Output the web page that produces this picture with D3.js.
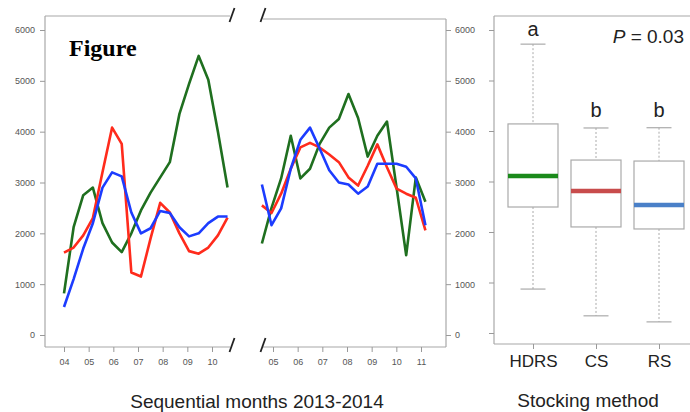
<!DOCTYPE html>
<html>
<head>
<meta charset="utf-8">
<script src="https://cdn.jsdelivr.net/npm/d3@7"></script>
<style>
  body { margin: 0; background: #fff; }
  svg { display: block; font-family: Arial, "Liberation Sans", sans-serif; }
  .tick text { fill: #555; font-size: 9px; }
  .tick line { stroke: #999; }
</style>
</head>
<body>
<div id="chart"></div>
<script>
// --- data ---
const yTicks = [0, 1000, 2000, 3000, 4000, 5000, 6000]

const leftMonthTicks = [4, 5, 6, 7, 8, 9, 10]
const rightMonthTicks = [5, 6, 7, 8, 9, 10, 11]

const leftMonths = [4.00, 4.39, 4.78, 5.17, 5.56, 5.95, 6.34, 6.73, 7.12, 7.51, 7.90, 8.29, 8.68, 9.07, 9.46, 9.85, 10.24, 10.63]
const leftGreen = [820, 2120, 2750, 2900, 2200, 1820, 1630, 2000, 2450, 2800, 3100, 3400, 4350, 4940, 5490, 5020, 4000, 2900]
const leftRed = [1620, 1720, 1960, 2300, 3200, 4080, 3760, 1230, 1150, 1900, 2600, 2410, 2000, 1650, 1600, 1720, 1960, 2310]
const leftBlue = [550, 1100, 1700, 2200, 2900, 3200, 3120, 2410, 2000, 2100, 2440, 2400, 2120, 1940, 2000, 2200, 2330, 2330]

const rightMonths = [4.55, 4.94, 5.33, 5.72, 6.11, 6.50, 6.89, 7.28, 7.67, 8.06, 8.45, 8.84, 9.23, 9.62, 10.01, 10.40, 10.79, 11.18]
const rightGreen = [1800, 2500, 3080, 3920, 3080, 3270, 3760, 4080, 4250, 4740, 4270, 3510, 3920, 4200, 2900, 1570, 3100, 2620]
const rightRed = [2550, 2400, 2780, 3270, 3690, 3780, 3690, 3550, 3400, 3100, 2940, 3330, 3750, 3300, 2880, 2780, 2700, 2060]
const rightBlue = [2960, 2160, 2490, 3270, 3840, 4080, 3670, 3240, 3000, 2960, 2780, 2920, 3370, 3370, 3370, 3310, 3080, 2160]

const groups = ['HDRS', 'CS', 'RS']
const groupLetters = ['a', 'b', 'b']
const whiskerLow = [870, 340, 220]
const q1 = [2495, 2100, 2060]
const medians = [3110, 2810, 2535]
const q3 = [4140, 3425, 3405]
const whiskerHigh = [5720, 4060, 4065]

const lineColors = { green: '#1f6f1f', red: '#ff2b1c', blue: '#1c3cff' }
const medianColors = ['#1b8a1b', '#c84c4c', '#4a80c8']

// --- layout ---
const W = 690, H = 412
const svg = d3.select('#chart').append('svg')
  .attr('width', W).attr('height', H)

const frameColor = '#a8a8a8'
const fmt = d3.format('d')

const y = d3.scaleLinear().domain([0, 6000]).range([335, 30])
const yBox = d3.scaleLinear().domain([0, 6000]).range([333, 30])

const xLeft = d3.scaleLinear().domain([4, 10]).range([64, 212])
const xRight = d3.scaleLinear().domain([5, 11]).range([273, 421])

function frameLine(x1, y1, x2, y2) {
  svg.append('line')
    .attr('x1', x1).attr('y1', y1).attr('x2', x2).attr('y2', y2)
    .attr('stroke', frameColor).attr('stroke-width', 1.2)
}

function breakMark(cx, cy) {
  svg.append('line')
    .attr('x1', cx - 2.5).attr('y1', cy + 7).attr('x2', cx + 2.5).attr('y2', cy - 7)
    .attr('stroke', '#222').attr('stroke-width', 1.8)
}

function styleAxis(g) {
  g.select('.domain').remove()
  g.selectAll('.tick line').attr('stroke', '#999')
}

// left panel frame (top, left, bottom)
frameLine(45, 16, 230, 16)
frameLine(45, 16, 45, 347)
frameLine(45, 347, 230, 347)
breakMark(232, 15)
breakMark(232, 345)

// right panel frame (top, right, bottom)
frameLine(263, 19, 446, 19)
frameLine(446, 19, 446, 347)
frameLine(263, 347, 446, 347)
breakMark(263, 15)
breakMark(263, 345)

// axes
svg.append('g').attr('transform', 'translate(45,0)')
  .call(d3.axisLeft(y).tickValues(yTicks).tickSize(5).tickPadding(5).tickFormat(fmt))
  .call(styleAxis)

svg.append('g').attr('transform', 'translate(446,0)')
  .call(d3.axisRight(y).tickValues(yTicks).tickSize(5).tickPadding(4).tickFormat(fmt))
  .call(styleAxis)

svg.append('g').attr('transform', 'translate(0,347)')
  .call(d3.axisBottom(xLeft).tickValues(leftMonthTicks).tickSize(5).tickPadding(7)
    .tickFormat(d => String(d).padStart(2, '0')))
  .call(styleAxis)

svg.append('g').attr('transform', 'translate(0,347)')
  .call(d3.axisBottom(xRight).tickValues(rightMonthTicks).tickSize(5).tickPadding(7)
    .tickFormat(d => String(d).padStart(2, '0')))
  .call(styleAxis)

// lines
function drawSeries(xs, months, values, color) {
  const pts = months.map((m, i) => [m, values[i]])
  svg.append('path')
    .datum(pts)
    .attr('fill', 'none')
    .attr('stroke', color)
    .attr('stroke-width', 2.6)
    .attr('stroke-linejoin', 'round')
    .attr('d', d3.line().x(d => xs(d[0])).y(d => y(d[1])))
}

drawSeries(xLeft, leftMonths, leftGreen, lineColors.green)
drawSeries(xLeft, leftMonths, leftRed, lineColors.red)
drawSeries(xLeft, leftMonths, leftBlue, lineColors.blue)

drawSeries(xRight, rightMonths, rightGreen, lineColors.green)
drawSeries(xRight, rightMonths, rightRed, lineColors.red)
drawSeries(xRight, rightMonths, rightBlue, lineColors.blue)

svg.append('text')
  .attr('x', 69).attr('y', 56)
  .attr('font-family', '"Liberation Serif", "Times New Roman", serif')
  .attr('font-weight', 'bold')
  .attr('font-size', 24)
  .attr('fill', '#000')
  .text('Figure')

svg.append('text')
  .attr('x', 257).attr('y', 408)
  .attr('text-anchor', 'middle')
  .attr('font-size', 19)
  .attr('fill', '#222')
  .text('Sequential months 2013-2014')

// --- boxplot panel ---
const xBox = d3.scalePoint().domain(groups).range([533, 659])
const boxW = 50, capW = 25

frameLine(494, 16, 690, 16)
frameLine(494, 16, 494, 344)
frameLine(494, 344, 690, 344)

svg.append('g').attr('transform', 'translate(494,0)')
  .call(d3.axisLeft(yBox).tickValues(yTicks).tickSize(5).tickFormat(''))
  .call(styleAxis)

svg.append('g').attr('transform', 'translate(0,344)')
  .call(d3.axisBottom(xBox).tickSize(5).tickPadding(6))
  .call(styleAxis)
  .call(g => g.selectAll('.tick text')
    .style('font-size', '17px').style('fill', '#222'))

const boxes = groups.map((g, i) => ({
  g, lo: whiskerLow[i], q1: q1[i], med: medians[i], q3: q3[i], hi: whiskerHigh[i],
  color: medianColors[i], letter: groupLetters[i]
}))

const bg = svg.append('g').selectAll('g').data(boxes).join('g')

bg.append('line')
  .attr('x1', d => xBox(d.g)).attr('x2', d => xBox(d.g))
  .attr('y1', d => yBox(d.hi)).attr('y2', d => yBox(d.q3))
  .attr('stroke', '#aaa').attr('stroke-dasharray', '2,2')
bg.append('line')
  .attr('x1', d => xBox(d.g)).attr('x2', d => xBox(d.g))
  .attr('y1', d => yBox(d.q1)).attr('y2', d => yBox(d.lo))
  .attr('stroke', '#aaa').attr('stroke-dasharray', '2,2')
bg.selectAll('.cap').data(d => [d.hi, d.lo].map(v => ({ v, g: d.g }))).join('line')
  .attr('class', 'cap')
  .attr('x1', d => xBox(d.g) - capW / 2).attr('x2', d => xBox(d.g) + capW / 2)
  .attr('y1', d => yBox(d.v)).attr('y2', d => yBox(d.v))
  .attr('stroke', '#aaa').attr('stroke-width', 1.2)
bg.append('rect')
  .attr('x', d => xBox(d.g) - boxW / 2).attr('width', boxW)
  .attr('y', d => yBox(d.q3)).attr('height', d => yBox(d.q1) - yBox(d.q3))
  .attr('fill', '#fff').attr('stroke', '#aaa').attr('stroke-width', 1.2)
bg.append('line')
  .attr('x1', d => xBox(d.g) - boxW / 2).attr('x2', d => xBox(d.g) + boxW / 2)
  .attr('y1', d => yBox(d.med)).attr('y2', d => yBox(d.med))
  .attr('stroke', d => d.color).attr('stroke-width', 4.5)
bg.append('text')
  .attr('x', d => xBox(d.g))
  .attr('y', d => d.letter === 'a' ? 36 : 117)
  .attr('text-anchor', 'middle')
  .attr('font-size', 20).attr('fill', '#222')
  .text(d => d.letter)

const pText = svg.append('text')
  .attr('x', 684).attr('y', 43)
  .attr('text-anchor', 'end')
  .attr('font-size', 19).attr('fill', '#222')
pText.append('tspan').attr('font-style', 'italic').text('P')
pText.append('tspan').text(' = 0.03')

svg.append('text')
  .attr('x', 588).attr('y', 407)
  .attr('text-anchor', 'middle')
  .attr('font-size', 19)
  .attr('fill', '#222')
  .text('Stocking method')
</script>
</body>
</html>
